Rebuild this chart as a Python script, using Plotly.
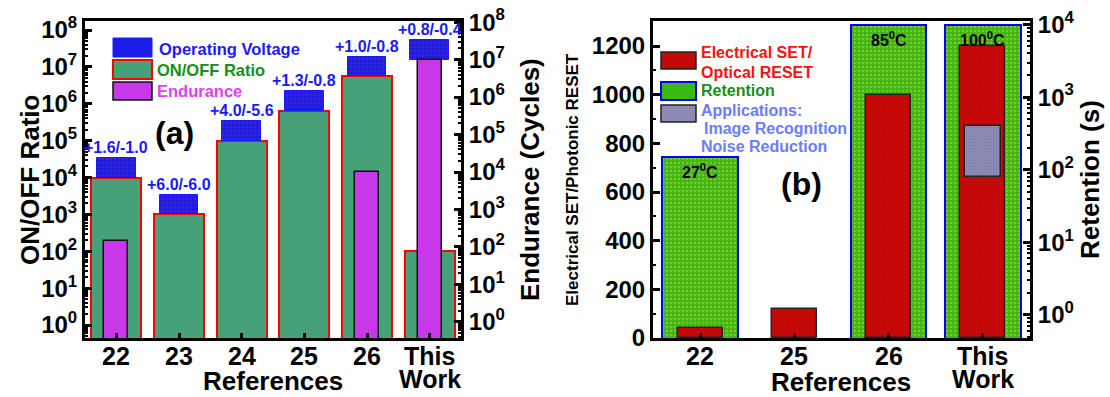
import numpy as np
import plotly.graph_objects as go

# ---------------- data: panel (a) ----------------
refs_a = ["22", "23", "24", "25", "26", "This<br>Work"]
on_off_ratio = [1e4, 1e3, 1e5, 6.5e5, 5.5e6, 1e2]
endurance = [140, None, None, None, 1e4, 1e7]
voltage_labels = ["+1.6/-1.0", "+6.0/-6.0", "+4.0/-5.6", "+1.3/-0.8", "+1.0/-0.8", "+0.8/-0.4"]

# ---------------- data: panel (b) ----------------
refs_b = ["22", "25", "26", "This<br>Work"]
set_reset = [40, 120, 1000, 1200]
retention = [150, None, 1e4, 1e4]
retention_temps = ["27<sup>0</sup>C", "", "85<sup>0</sup>C", "100<sup>0</sup>C"]
app_ref = ["This<br>Work"]
app_span = [(660, 870)]

# ---------------- styling constants ----------------
FONT = "Liberation Sans, Arial, sans-serif"
W, H = 1110, 397
LEFT_RANGE = [-0.35, 8.245]
RIGHT_RANGE = [-0.43, 8.03]
RET_RANGE = [-0.32, 4.05]
LIN_RANGE = [0, 1303]
VOLT_BOX_DECADES = 0.53

XA = [85 / W, 461 / W]
XB = [653 / W, 1030 / W]
YD = [1 - 338 / H, 1 - 21 / H]


def px(x):
    return x / W


def py(y):
    return 1 - y / H


def right_to_left(v):
    f = (np.log10(v) - RIGHT_RANGE[0]) / (RIGHT_RANGE[1] - RIGHT_RANGE[0])
    return 10 ** (LEFT_RANGE[0] + f * (LEFT_RANGE[1] - LEFT_RANGE[0]))


fig = go.Figure()

# ON/OFF ratio bars
fig.add_trace(go.Bar(
    x=refs_a, y=on_off_ratio, width=0.8, xaxis="x", yaxis="y",
    marker=dict(color="#46a078", line=dict(color="#ff0000", width=2)),
    showlegend=False,
))

# Operating-voltage boxes sitting on top of the tallest bar of each reference
volt_base, volt_top = [], []
for r, e in zip(on_off_ratio, endurance):
    b = r if e is None else max(r, right_to_left(e))
    volt_base.append(b)
    volt_top.append(b * 10 ** VOLT_BOX_DECADES)
fig.add_trace(go.Bar(
    x=refs_a, base=volt_base, y=[t - b for t, b in zip(volt_top, volt_base)],
    width=0.62, xaxis="x", yaxis="y",
    marker=dict(color="#1c1ce8", line=dict(color="#1a1aff", width=1),
                pattern=dict(shape=".", bgcolor="#1c1ce8", fgcolor="#6a2aa0",
                             size=4, solidity=0.35)),
    showlegend=False,
))

# Endurance bars (right axis)
fig.add_trace(go.Bar(
    x=refs_a, y=endurance, width=0.38, xaxis="x", yaxis="y2",
    marker=dict(color="#c837e8", line=dict(color="#111111", width=1.5)),
    showlegend=False,
))

# Retention bars (log axis, right side)
fig.add_trace(go.Bar(
    x=refs_b, y=retention, width=0.8, xaxis="x2", yaxis="y3",
    marker=dict(color="#3cb814", line=dict(color="#0000ff", width=2),
                pattern=dict(shape=".", bgcolor="#3cb814", fgcolor="#c8d040",
                             size=4, solidity=0.3)),
    showlegend=False,
))

# Electrical SET / optical RESET bars (linear axis, left side)
fig.add_trace(go.Bar(
    x=refs_b, y=set_reset, width=0.48, xaxis="x2", yaxis="y4",
    marker=dict(color="#c40808", line=dict(color="#222222", width=1.5),
                pattern=dict(shape=".", bgcolor="#c80a0a", fgcolor="#b00000",
                             size=3, solidity=0.3)),
    showlegend=False,
))

# Applications box
fig.add_trace(go.Bar(
    x=app_ref, base=[s[0] for s in app_span], y=[s[1] - s[0] for s in app_span],
    width=0.38, xaxis="x2", yaxis="y4",
    marker=dict(color="#8a8ab4", line=dict(color="#222222", width=1.5),
                pattern=dict(shape=".", bgcolor="#8c8cb6", fgcolor="#7070a0",
                             size=3, solidity=0.3)),
    showlegend=False,
))

tickfont = dict(family=FONT, size=24, color="black", weight="bold")


def log_ticks(lo, hi):
    vals = [10 ** k for k in range(lo, hi + 1)]
    text = ["10<sup>%d</sup>" % k for k in range(lo, hi + 1)]
    minor = [m * 10 ** k for k in range(lo - 1, hi + 1) for m in range(2, 10)]
    return vals, text, minor


lv, lt, lm = log_ticks(0, 8)
rv, rt, rm = log_ticks(0, 4)

axis_common = dict(showline=True, linecolor="black", linewidth=3,
                   ticks="inside", tickcolor="black", tickwidth=2.5,
                   showgrid=False, zeroline=False, tickfont=tickfont, automargin=False)
minor_log = lambda vals: dict(tickmode="array", tickvals=vals, ticks="inside", ticklen=3,
                              tickcolor="black", tickwidth=1.5)

fig.update_layout(
    width=W, height=H, margin=dict(l=0, r=0, t=0, b=0, autoexpand=False),
    paper_bgcolor="white", plot_bgcolor="white",
    barmode="overlay", bargap=0,
    font=dict(family=FONT, color="black"),
    xaxis=dict(domain=XA, type="category", range=[-0.5, 5.5], anchor="y",
               mirror=True, ticklen=5, showticklabels=False, **axis_common),
    yaxis=dict(domain=YD, type="log", range=LEFT_RANGE, anchor="x", ticklen=7,
               tickmode="array", tickvals=lv, ticktext=lt, minor=minor_log(lm),
               **axis_common),
    yaxis2=dict(type="log", range=RIGHT_RANGE, anchor="x", overlaying="y", side="right",
                ticklen=7, tickmode="array", tickvals=lv, ticktext=lt, minor=minor_log(lm),
                **axis_common),
    xaxis2=dict(domain=XB, type="category", range=[-0.5, 3.5], anchor="y3",
                mirror=True, ticklen=5, showticklabels=False, **axis_common),
    yaxis3=dict(domain=YD, type="log", range=RET_RANGE, anchor="x2", side="right",
                ticklen=7, tickmode="array", tickvals=rv, ticktext=rt, minor=minor_log(rm),
                **axis_common),
    yaxis4=dict(type="linear", range=LIN_RANGE, anchor="x2", overlaying="y3", side="left",
                ticklen=7, tickmode="linear", tick0=0, dtick=200,
                minor=dict(dtick=100, ticks="inside", ticklen=3, tickcolor="black", tickwidth=1.5),
                **axis_common),
)

ann = []


def text(x, y, s, size, color="black", xanchor="center", yanchor="middle", angle=0,
         xref="paper", **kw):
    ann.append(dict(x=x, y=y, xref=xref, yref="paper", text=s, showarrow=False,
                    xanchor=xanchor, yanchor=yanchor, textangle=angle,
                    font=dict(family=FONT, size=size, color=color, weight="bold"), **kw))


# category labels under each axis, with tight line spacing for two-line names
for xr, cats in (("x", refs_a), ("x2", refs_b)):
    for i, cat in enumerate(cats):
        for j, line in enumerate(cat.split("<br>")):
            text(i, py(356 + 23 * j), line, 25, xref=xr)

# voltage labels above each box (x given as category index)
for i, (top, lab) in enumerate(zip(volt_top, voltage_labels)):
    ann.append(dict(x=i, y=np.log10(top), xref="x", yref="y", text=lab, showarrow=False,
                    yanchor="bottom", yshift=0,
                    font=dict(family=FONT, size=16, color="#1a1aff", weight="bold")))

# retention temperatures inside the green bars
for i, (val, lab) in enumerate(zip(retention, retention_temps)):
    if val is None or not lab:
        continue
    ann.append(dict(x=i, y=np.log10(val), xref="x2", yref="y3", text=lab, showarrow=False,
                    yanchor="middle", yshift=-14,
                    font=dict(family=FONT, size=16, color="black", weight="bold")))

# axis titles
text(px(30), py(180), "ON/OFF Ratio", 26, angle=-90)
text(px(530), py(180), "Endurance (Cycles)", 26, angle=-90)
text(px(273), py(381), "References", 26)
text(px(572), py(180), "Electrical SET/Photonic RESET", 17, angle=-90)
text(px(1090), py(180), "Retention (s)", 26, angle=-90)
text(px(841), py(382), "References", 26)

# panel tags
text(px(174), py(133), "(a)", 32)
text(px(802), py(184), "(b)", 32)

# legend (a)
text(px(157), py(49), "Operating Voltage", 16.5, color="#1a1aff", xanchor="left")
text(px(155), py(70), "ON/OFF Ratio", 16.5, color="#159015", xanchor="left")
text(px(155), py(91), "Endurance", 16.5, color="#e040f0", xanchor="left")

# legend (b)
text(px(699), py(52), "Electrical SET/", 16, color="#ff1010", xanchor="left")
text(px(699), py(72), "Optical RESET", 16, color="#ff1010", xanchor="left")
text(px(699), py(91), "Retention", 16, color="#159015", xanchor="left")
text(px(699), py(110), "Applications:", 16, color="#6a7cff", xanchor="left")
text(px(702), py(128), "Image Recognition", 16, color="#6a7cff", xanchor="left")
text(px(699), py(146), "Noise Reduction", 16, color="#6a7cff", xanchor="left")

fig.update_layout(annotations=ann)

shapes = []


def swatch(x0, y0, x1, y1, fill, line, lw):
    shapes.append(dict(type="rect", xref="paper", yref="paper",
                       x0=px(x0), x1=px(x1), y0=py(y1), y1=py(y0),
                       fillcolor=fill, line=dict(color=line, width=lw)))


swatch(113, 38, 152, 57, "#1c1ce8", "#1a1aff", 1)
swatch(113, 60, 152, 79, "#46a078", "#ff0000", 2)
swatch(113, 82, 152, 100, "#c837e8", "#111111", 1.5)
swatch(661, 52, 696, 69, "#c40808", "#222222", 1.5)
swatch(661, 82, 696, 100, "#3cb814", "#0000ff", 2)
swatch(661, 105, 696, 122, "#8a8ab4", "#222222", 1.5)
fig.update_layout(shapes=shapes)

fig.write_html("out.html")
